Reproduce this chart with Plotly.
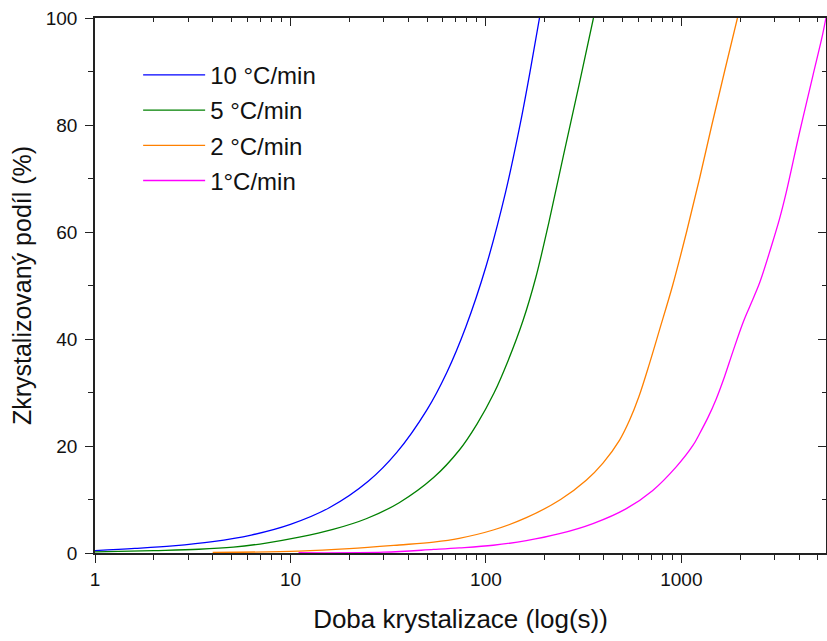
import plotly.graph_objects as go

# ---- data ----
series_names = ["10 °C/min", "5 °C/min", "2 °C/min", "1°C/min"]
series_colors = ["#0000FF", "#008000", "#FF8000", "#FF00FF"]

x_10 = [1, 1.6, 2.5, 4, 6.3, 10, 15.8, 25, 35, 50, 63, 79, 100, 126, 150,
        170, 188]
y_10 = [0.45, 0.85, 1.33, 2.12, 3.35, 5.35, 8.45, 13.4, 18.8, 26.8, 33.7,
        42.3, 53.5, 67.4, 80.3, 90.9, 100]

x_5 = [1, 2, 3.4, 5.1, 7.5, 11.1, 16.5, 24.4, 36, 54, 73, 90, 110, 130, 155,
       180, 210, 250, 300, 355]
y_5 = [0.2, 0.45, 0.7, 1.1, 1.85, 2.95, 4.4, 6.4, 9.4, 14.1, 19.2, 24.1, 29.9,
       36.0, 43.5, 51.5, 61.8, 74.5, 87.6, 100]

x_2 = [4, 11, 20, 36, 54, 73, 109, 161, 241, 326, 397, 483, 543, 606, 688,
       773, 902, 1063, 1239, 1432, 1663, 1936]
y_2 = [0.1, 0.34, 0.8, 1.5, 2.05, 2.75, 4.3, 6.6, 10, 13.6, 16.8, 21.1, 24.8,
       29.2, 35.5, 41.7, 50, 60, 70, 80, 90, 100]

x_1 = [11, 30, 54, 73, 109, 161, 238, 353, 523, 714, 941, 1146, 1239, 1367,
       1508, 1664, 1833, 2064, 2233, 2514, 2885, 3181, 3440, 4023, 4707, 5272,
       5510]
y_1 = [0.05, 0.15, 0.66, 0.95, 1.45, 2.3, 3.6, 5.5, 8.3, 11.7, 16.1, 20.1,
       22.3, 25.3, 28.8, 33.0, 37.6, 43.0, 46.0, 50.5, 57.3, 62.5, 67.4, 78.6,
       89.2, 96.8, 100.3]

x_tickvals = [1, 10, 100, 1000]
x_ticktext = ["1", "10", "100", "1000"]
x_minor = [m * d for d in (1, 10, 100, 1000) for m in range(2, 10)]
y_tickvals = [0, 20, 40, 60, 80, 100]
y_minor = [10, 30, 50, 70, 90]

x_range_log = [0, 3.740]
y_range = [0, 100]

FONT = "Liberation Sans, Arial, sans-serif"
AX = "#222222"

fig = go.Figure()
for i, (xs, ys, name, col) in enumerate(zip([x_10, x_5, x_2, x_1],
                                            [y_10, y_5, y_2, y_1],
                                            series_names, series_colors)):
    fig.add_trace(go.Scatter(x=xs, y=ys, mode="lines", name=name,
                             legendgroup="g%d" % i,
                             line=dict(color=col, width=1.3, shape="spline",
                                       smoothing=1.0)))

# dummy trace so mirror axes are created
fig.add_trace(go.Scatter(x=[1], y=[0], xaxis="x2", yaxis="y2", mode="lines",
                         showlegend=False, hoverinfo="skip",
                         line=dict(color="rgba(0,0,0,0)")))

fig.update_layout(
    width=827, height=641,
    margin=dict(l=95, r=1, t=18, b=88),
    paper_bgcolor="white", plot_bgcolor="white",
    font=dict(family=FONT, color="#111111", size=19),
    showlegend=True,
    legend=dict(x=0.059, y=0.935, xanchor="left", yanchor="top",
                bgcolor="rgba(0,0,0,0)", font=dict(size=24, family=FONT),
                itemwidth=62, traceorder="grouped", tracegroupgap=1),
    xaxis=dict(type="log", range=x_range_log, showline=True, linecolor=AX,
               linewidth=1.5, ticks="outside", ticklen=8, tickwidth=1.2,
               tickcolor=AX, tickvals=x_tickvals, ticktext=x_ticktext,
               minor=dict(tickvals=x_minor, ticks="outside", ticklen=5,
                          tickwidth=1.2, tickcolor=AX, showgrid=False),
               showgrid=False, zeroline=False,
               tickfont=dict(size=19),
               title=dict(text="Doba krystalizace (log(s))",
                          font=dict(size=26), standoff=21)),
    yaxis=dict(range=y_range, showline=True, linecolor=AX, linewidth=1.5,
               ticks="outside", ticklen=8, tickwidth=1.2, tickcolor=AX,
               tickvals=y_tickvals, ticklabelstandoff=4,
               minor=dict(tickvals=y_minor, ticks="outside", ticklen=5,
                          tickwidth=1.2, tickcolor=AX, showgrid=False),
               showgrid=False, zeroline=False,
               tickfont=dict(size=19),
               title=dict(text="Zkrystalizovaný podíl (%)",
                          font=dict(size=25), standoff=7)),
    xaxis2=dict(type="log", range=x_range_log, overlaying="x", side="top",
                anchor="y", showline=True, linecolor=AX, linewidth=1.5,
                ticks="inside", ticklen=8, tickwidth=1.2, tickcolor=AX,
                tickvals=x_tickvals, showticklabels=False,
                minor=dict(tickvals=x_minor, ticks="inside", ticklen=4,
                           tickwidth=1.2, tickcolor=AX, showgrid=False),
                showgrid=False, zeroline=False),
    yaxis2=dict(range=y_range, overlaying="y", side="right", anchor="x",
                showline=True, linecolor=AX, linewidth=1.5,
                ticks="inside", ticklen=8, tickwidth=1.2, tickcolor=AX,
                tickvals=y_tickvals, showticklabels=False,
                minor=dict(tickvals=y_minor, ticks="inside", ticklen=4,
                           tickwidth=1.2, tickcolor=AX, showgrid=False),
                showgrid=False, zeroline=False),
)

fig.write_html("out.html")
